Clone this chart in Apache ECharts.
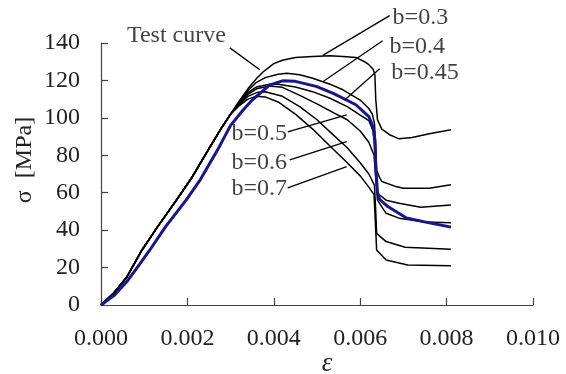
<!DOCTYPE html>
<html><head><meta charset="utf-8">
<script src="https://cdn.jsdelivr.net/npm/echarts@6/dist/echarts.min.js"></script>
<style>html,body{margin:0;padding:0;background:#fff}#c{width:566px;height:374px}</style>
</head><body><div id="c"></div>
<script>
// ---- data (strain ε, stress σ in MPa) ----
var xTicks = [0, 0.002, 0.004, 0.006, 0.008, 0.010];
var yTicks = [0, 20, 40, 60, 80, 100, 120, 140];
var rise = [[0,0],[0.0003,6.5],[0.0006,15],[0.00095,29.4],[0.0013,41.5],[0.00176,56.5],[0.0021,68],[0.0025,83.5],[0.0028,95],[0.003,102]];
var b03 = [[0.0032,109],[0.0034,115.5],[0.0036,121],[0.00375,124.5],[0.004,129],[0.0042,130.8],[0.0045,132.3],[0.0049,132.8],[0.0053,133.2],[0.0056,132.8],[0.0059,132.3],[0.0061,130],[0.0062,128.4],[0.0063,126],[0.00634,123],[0.00636,110],[0.0064,99],[0.0065,94],[0.00668,91],[0.0069,88.8],[0.0072,89.5],[0.0076,91.5],[0.0081,93.6]];
var b04 = [[0.0032,108.5],[0.0034,114.5],[0.0036,119],[0.0038,121.5],[0.0041,123.3],[0.0043,123.8],[0.0046,123],[0.0049,121.2],[0.0053,118],[0.0056,115],[0.006,109.5],[0.0062,105],[0.00628,102],[0.00633,97],[0.00636,85],[0.00638,72],[0.00645,68],[0.0065,66],[0.0068,63.5],[0.007,62.4],[0.0076,62.4],[0.0081,64.2]];
var b045 = [[0.0032,108],[0.0034,113.5],[0.0036,116.5],[0.0039,118],[0.0041,118],[0.0045,116.5],[0.0049,114],[0.0053,110.5],[0.0057,106],[0.006,101.5],[0.0062,98.5],[0.0063,93],[0.00635,80],[0.00638,66],[0.0064,59.7],[0.0066,56],[0.0069,54.4],[0.0074,52.2],[0.0081,53.5]];
var b05 = [[0.0032,107.5],[0.0034,112.5],[0.0036,115.5],[0.0039,117],[0.0042,116.3],[0.0046,112],[0.005,107.5],[0.0054,102.5],[0.0057,99],[0.006,93],[0.0062,87],[0.00632,80],[0.00636,68],[0.0064,56],[0.0066,49],[0.0069,46.4],[0.0075,44.3],[0.0081,44]];
var b06 = [[0.0032,107],[0.0034,111.5],[0.0036,113.5],[0.0038,114],[0.0042,111.5],[0.0046,106],[0.005,99],[0.0053,92.5],[0.0057,84],[0.006,76],[0.0062,70],[0.00633,64],[0.00636,50],[0.00638,38.3],[0.0066,33.9],[0.00704,30.9],[0.0081,29.8]];
var b07 = [[0.0032,106.5],[0.0034,110],[0.0036,111.5],[0.0038,111.2],[0.0041,108.5],[0.0045,102],[0.0049,94],[0.0053,85],[0.0057,76],[0.006,69],[0.0062,63],[0.00632,59],[0.00636,40],[0.00638,29.4],[0.0066,24.1],[0.0071,21.4],[0.0081,21]];
var testCurve = [[0,0],[0.0003,5],[0.0006,12.5],[0.0009,22],[0.00113,29.4],[0.0015,42],[0.00197,56],[0.0023,67],[0.0027,82.9],[0.003,96],[0.0033,104.5],[0.0035,109.5],[0.0037,113.5],[0.0039,117.5],[0.0042,119.8],[0.0045,119.5],[0.005,116.7],[0.0054,112.8],[0.0059,107],[0.0062,100.7],[0.0063,95],[0.00634,88],[0.00636,74],[0.0064,60],[0.00645,56.5],[0.00664,52.6],[0.00707,46.5],[0.0076,43.9],[0.0081,41.6]];
// annotations: label text, label anchor (left-middle), leader start, leader end (data coords)
var annNames = ['Test curve','b=0.3','b=0.4','b=0.45','b=0.5','b=0.6','b=0.7'];
var annAnchor = [[0.000601,143.9],[0.00675,153.5],[0.00668,138.1],[0.00672,123.9],[0.003022,91.5],[0.003022,76.2],[0.003022,62]];
var annFrom = [[0.002983,137.4],[0.006682,154.6],[0.00652,141.2],[0.00645,126.2],[0.004323,92.5],[0.00437,77.5],[0.004323,62.6]];
var annTo = [[0.003676,125.7],[0.005133,133.4],[0.005133,119.3],[0.005641,109.6],[0.005687,101.6],[0.005687,87.3],[0.005687,74]];

var bCurves = [b03, b04, b045, b05, b06, b07];
var FONT = '"Liberation Serif","Times New Roman",serif';
var AX = '#444';
var series = [];
bCurves.forEach(function (c, i) {
  series.push({type:'line', name:annNames[i+1], data: rise.concat(c), showSymbol:false, symbol:'none',
    lineStyle:{color:'#000', width:1.5}, silent:true, z:2});
});
series.push({type:'line', name:'Test curve', data:testCurve, showSymbol:false, symbol:'none',
  lineStyle:{color:'#16168e', width:3}, silent:true, z:3});
annFrom.forEach(function (p, i) {
  series.push({type:'line', data:[p, annTo[i]], showSymbol:false, symbol:'none', clip:false,
    lineStyle:{color:'#000', width:1.3}, silent:true, z:4});
});
series.push({type:'scatter', clip:false, symbolSize:0, silent:true, z:5,
  data: annAnchor.map(function (p, i) { return {value:p, name:annNames[i]}; }),
  label:{show:true, position:'right', distance:0, formatter:'{b}', color:'#111', fontFamily:FONT, fontSize:24}});

var chart = echarts.init(document.getElementById('c'), null, {renderer:'canvas'});
chart.setOption({
  animation:false,
  backgroundColor:'#fff',
  grid:{left:101, right:33, top:43, bottom:69, containLabel:false},
  xAxis:{type:'value', min:xTicks[0], max:xTicks[xTicks.length-1], interval:0.002,
    axisLine:{lineStyle:{color:AX, width:1.2}},
    axisTick:{inside:true, length:7, lineStyle:{color:AX, width:1.2}},
    splitLine:{show:false},
    axisLabel:{margin:22, color:'#222', fontFamily:FONT, fontSize:24,
      formatter:function (v) { return v.toFixed(3); }}},
  yAxis:{type:'value', min:yTicks[0], max:yTicks[yTicks.length-1], interval:20,
    axisLine:{show:true, lineStyle:{color:AX, width:1.2}},
    axisTick:{show:true, inside:true, length:7, lineStyle:{color:AX, width:1.2}},
    splitLine:{show:false},
    axisLabel:{margin:21, color:'#222', fontFamily:FONT, fontSize:24}},
  graphic:[
    {type:'text', x:25, y:160, rotation:Math.PI/2, style:{text:'σ  [MPa]', fill:'#222', font:'24px ' + FONT, align:'center', verticalAlign:'middle'}},
    {type:'text', x:327, y:364, style:{text:'ε', fill:'#222', font:'italic 27px ' + FONT, align:'center', verticalAlign:'middle'}}
  ],
  series: series
});
</script></body></html>
